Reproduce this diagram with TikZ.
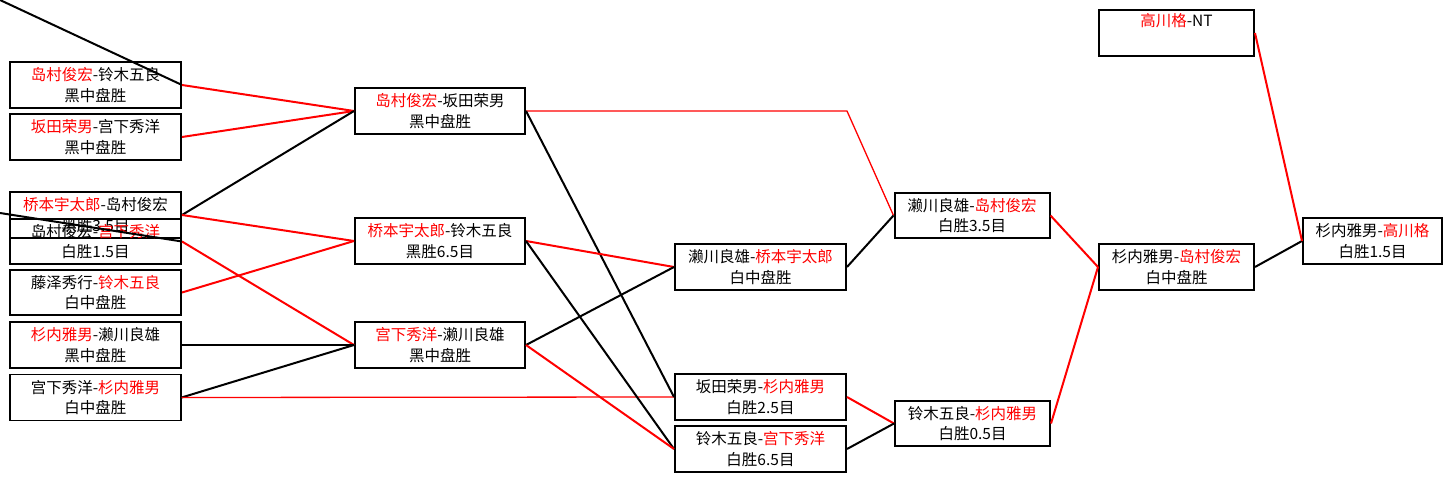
\documentclass[tikz,border=0pt]{standalone}
\usepackage{fontspec}
\newfontfamily\cjk{Noto Sans CJK SC}
\newcommand\rn[1]{\textcolor{red}{#1}}
\tikzset{
  game/.style={draw=black, line width=2pt, inner sep=0pt, align=center,
    font=\cjk\fontsize{15.5}{20.5}\selectfont, text=black},
  colA/.style={game, minimum width=171pt, minimum height=45.5pt},
  colB/.style={game, minimum width=170pt, minimum height=45.5pt},
  colC/.style={game, minimum width=171pt, minimum height=45.5pt},
  colD/.style={game, minimum width=155pt, minimum height=45.5pt},
  colF/.style={game, minimum width=139pt, minimum height=45.5pt},
  thinbox/.style={line width=1.2pt},
  blk/.style={draw=black, line width=2pt},
  rd/.style={draw=red, line width=2pt},
  rdthin/.style={draw=red, line width=1.3pt}
}
\begin{document}
\begin{tikzpicture}[x=1pt,y=-1pt]
\useasboundingbox[fill=white] (0,0) rectangle (1452,481);

% column 1
\node[colA] (A1) at (95.5,85)  {\rn{岛村俊宏}-铃木五良\\黑中盘胜};
\node[colA] (A2) at (95.5,137) {\rn{坂田荣男}-宫下秀洋\\黑中盘胜};
\node[colA] (A3) at (95.5,215) {\rn{桥本宇太郎}-岛村俊宏\\黑胜3.5目};
\node[colA] (A4) at (95.5,241.5) {岛村俊宏-\rn{宫下秀洋}\\白胜1.5目};
\node[colA] (A5) at (95.5,292.5) {藤泽秀行-\rn{铃木五良}\\白中盘胜};
\node[colA] (A6) at (95.5,345) {\rn{杉内雅男}-濑川良雄\\黑中盘胜};
\node[colA,thinbox] (A7) at (95.5,397.5) {宫下秀洋-\rn{杉内雅男}\\白中盘胜};

% column 2
\node[colB] (B1) at (440,111) {\rn{岛村俊宏}-坂田荣男\\黑中盘胜};
\node[colB] (B2) at (440,241) {\rn{桥本宇太郎}-铃木五良\\黑胜6.5目};
\node[colB] (B3) at (440,345) {\rn{宫下秀洋}-濑川良雄\\黑中盘胜};

% column 3
\node[colC] (C1) at (760.5,267) {濑川良雄-\rn{桥本宇太郎}\\白中盘胜};
\node[colC] (C3) at (760.5,397) {坂田荣男-\rn{杉内雅男}\\白胜2.5目};
\node[colC] (C4) at (760.5,449) {铃木五良-\rn{宫下秀洋}\\白胜6.5目};

% column 4
\node[colD] (D1) at (972,215.5)   {濑川良雄-\rn{岛村俊宏}\\白胜3.5目};
\node[colD] (D2) at (972.5,423.5) {铃木五良-\rn{杉内雅男}\\白胜0.5目};

% column 5, 6
\node[colD] (E1) at (1176.5,267) {杉内雅男-\rn{岛村俊宏}\\白中盘胜};
\node[colD] (G)  at (1176.5,33)  {\rn{高川格}-NT\\\strut};
\node[colF] (F1) at (1372.5,241) {杉内雅男-\rn{高川格}\\白胜1.5目};

% free ends coming from outside the picture
\coordinate (o1) at (0,0);
\coordinate (o2) at (0,213);

% connectors
\draw[blk] (o1) -- (A1.east);
\draw[blk] (o2) -- (A4.east);
\draw[rd]  (A1.east) -- (B1.west);
\draw[rd]  (A2.east) -- (B1.west);
\draw[blk] (A3.east) -- (B1.west);
\draw[rd]  (A3.east) -- (B2.west);
\draw[rd]  (A5.east) -- (B2.west);
\draw[rd]  (A4.east) -- (B3.west);
\draw[blk] (A6.east) -- (B3.west);
\draw[blk] (A7.east) -- (B3.west);
\draw[rdthin] (A7.east) -- (C3.west);

\draw[rdthin] (B1.east) -- (B1.east -| C1.east) -- (D1.west);
\draw[blk] (B1.east) -- (C3.west);
\draw[rd]  (B2.east) -- (C1.west);
\draw[blk] (B2.east) -- (C4.west);
\draw[blk] (B3.east) -- (C1.west);
\draw[rd]  (B3.east) -- (C4.west);

\draw[blk] (C1.east) -- (D1.west);
\draw[rd]  (C3.east) -- (D2.west);
\draw[blk] (C4.east) -- (D2.west);

\draw[rd]  (D1.east) -- (E1.west);
\draw[rd]  (D2.east) -- (E1.west);
\draw[blk] (E1.east) -- (F1.west);
\draw[rd]  (G.east) -- (F1.west);
\end{tikzpicture}
\end{document}
